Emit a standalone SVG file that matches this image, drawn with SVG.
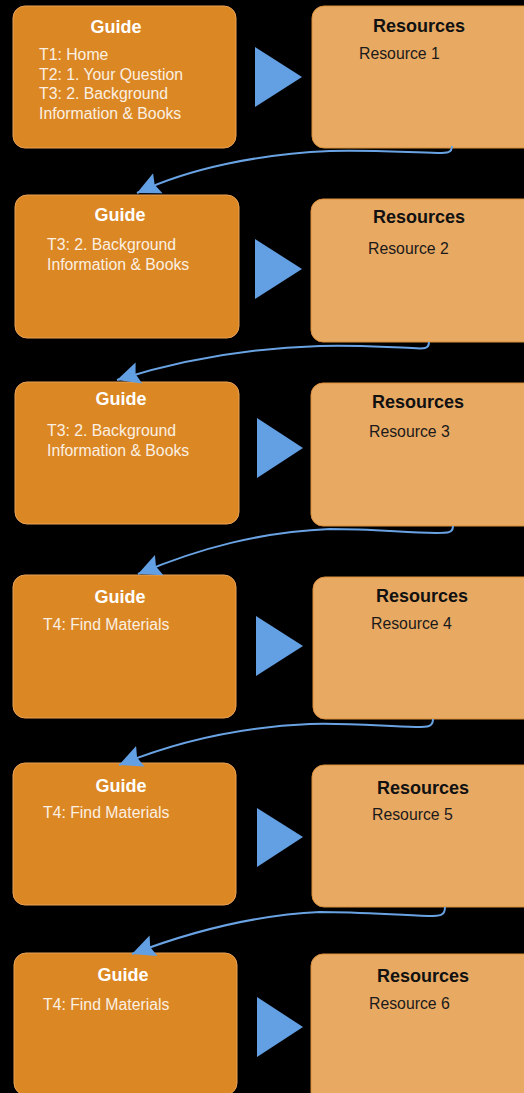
<svg xmlns="http://www.w3.org/2000/svg" width="524" height="1093" viewBox="0 0 524 1093">
  <style>
    .guide { fill: #db8724; stroke: #e9a256; stroke-width: 1; }
    .res { fill: #e8a963; stroke: #d98f3a; stroke-width: 1; }
    .step { fill: #639fe3; }
    .gt { font-family: "Liberation Sans", Arial, sans-serif; font-size: 18px; font-weight: bold; fill: #ffffff; text-anchor: middle; }
    .gb { font-family: "Liberation Sans", Arial, sans-serif; font-size: 15.8px; fill: #fbf0e2; }
    .rt { font-family: "Liberation Sans", Arial, sans-serif; font-size: 18px; font-weight: bold; fill: #111111; text-anchor: middle; }
    .rb { font-family: "Liberation Sans", Arial, sans-serif; font-size: 15.8px; fill: #1a1a1a; }
    .link { fill: none; stroke: #6aa3e3; stroke-width: 2; marker-end: url(#head); }
  </style>
  <defs>
    <marker id="head" markerUnits="userSpaceOnUse" viewBox="0 0 24 24" markerWidth="24" markerHeight="24" refX="23" refY="12" orient="auto">
      <path d="M0,1 L23,12 L0,23 L3.5,12 Z" fill="#639fe3"/>
    </marker>
  </defs>
  <rect width="524" height="1093" fill="#000000"/>

  <!-- row 1 -->
  <g id="guide1">
    <rect class="guide" x="13" y="6" width="223" height="142" rx="12"/>
    <text class="gt" x="116" y="33">Guide</text>
    <text class="gb" x="39" y="60">T1: Home</text>
    <text class="gb" x="39" y="79.5">T2: 1. Your Question</text>
    <text class="gb" x="39" y="99">T3: 2. Background</text>
    <text class="gb" x="39" y="118.5">Information &amp; Books</text>
  </g>
  <g id="step1"><polygon class="step" points="255,47 302,77 255,107"/></g>
  <g id="res1">
    <rect class="res" x="312" y="6" width="230" height="142" rx="12"/>
    <text class="rt" x="419" y="32">Resources</text>
    <text class="rb" x="359" y="59">Resource 1</text>
  </g>

  <!-- row 2 -->
  <g id="guide2">
    <rect class="guide" x="15" y="195" width="224" height="143" rx="12"/>
    <text class="gt" x="120" y="221">Guide</text>
    <text class="gb" x="47" y="250">T3: 2. Background</text>
    <text class="gb" x="47" y="269.5">Information &amp; Books</text>
  </g>
  <g id="step2"><polygon class="step" points="255,239 302,269 255,299"/></g>
  <g id="res2">
    <rect class="res" x="311" y="199" width="231" height="143" rx="12"/>
    <text class="rt" x="419" y="223">Resources</text>
    <text class="rb" x="368" y="254">Resource 2</text>
  </g>

  <!-- row 3 -->
  <g id="guide3">
    <rect class="guide" x="15" y="382" width="224" height="142" rx="12"/>
    <text class="gt" x="121" y="405">Guide</text>
    <text class="gb" x="47" y="436">T3: 2. Background</text>
    <text class="gb" x="47" y="455.5">Information &amp; Books</text>
  </g>
  <g id="step3"><polygon class="step" points="257,418 303,448 257,478"/></g>
  <g id="res3">
    <rect class="res" x="311" y="383" width="231" height="143" rx="12"/>
    <text class="rt" x="418" y="408">Resources</text>
    <text class="rb" x="369" y="437">Resource 3</text>
  </g>

  <!-- row 4 -->
  <g id="guide4">
    <rect class="guide" x="13" y="575" width="223" height="143" rx="12"/>
    <text class="gt" x="120" y="603">Guide</text>
    <text class="gb" x="43" y="630">T4: Find Materials</text>
  </g>
  <g id="step4"><polygon class="step" points="256,616 303,646 256,676"/></g>
  <g id="res4">
    <rect class="res" x="313" y="577" width="229" height="142" rx="12"/>
    <text class="rt" x="422" y="602">Resources</text>
    <text class="rb" x="371" y="629">Resource 4</text>
  </g>

  <!-- row 5 -->
  <g id="guide5">
    <rect class="guide" x="13" y="763" width="223" height="142" rx="12"/>
    <text class="gt" x="121" y="792">Guide</text>
    <text class="gb" x="43" y="818">T4: Find Materials</text>
  </g>
  <g id="step5"><polygon class="step" points="257,808 303,837 257,867"/></g>
  <g id="res5">
    <rect class="res" x="312" y="765" width="230" height="142" rx="12"/>
    <text class="rt" x="423" y="794">Resources</text>
    <text class="rb" x="372" y="820">Resource 5</text>
  </g>

  <!-- row 6 -->
  <g id="guide6">
    <rect class="guide" x="14" y="953" width="223" height="142" rx="12"/>
    <text class="gt" x="123" y="981">Guide</text>
    <text class="gb" x="43" y="1010">T4: Find Materials</text>
  </g>
  <g id="step6"><polygon class="step" points="257,997 303,1027 257,1057"/></g>
  <g id="res6">
    <rect class="res" x="311" y="954" width="231" height="150" rx="12"/>
    <text class="rt" x="423" y="982">Resources</text>
    <text class="rb" x="369" y="1009">Resource 6</text>
  </g>

  <!-- hand-offs from each resource box back to the next guide -->
  <g id="connectors">
    <path class="link" d="M452,146 C452,153 447,153 438,153 C400,152 370,150 330,151 C260,154 190,168 137,193"/>
    <path class="link" d="M429,342 C429,349 424,349 412,348 C380,347 360,345 320,346 C250,348 180,360 117,380"/>
    <path class="link" d="M453,526 C453,533 448,533 436,533 C400,532 370,529 330,529 C260,532 200,548 138,574"/>
    <path class="link" d="M433,719 C433,727 428,727 416,727 C380,726 350,723 310,724 C240,727 180,740 119,765"/>
    <path class="link" d="M445,907 C445,916 440,916 428,916 C395,915 360,912 320,912 C255,915 195,930 132,954"/>
  </g>
</svg>
